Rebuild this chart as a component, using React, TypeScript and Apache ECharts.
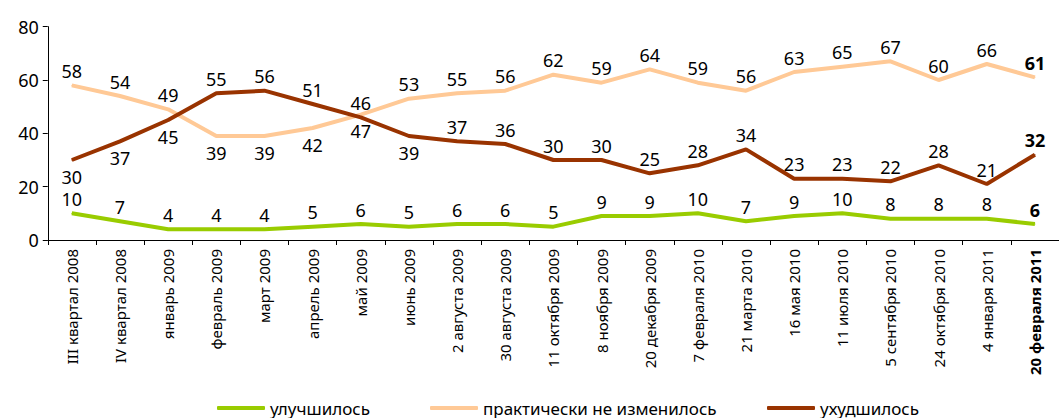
import React, { useEffect, useRef } from "react";
import * as echarts from "echarts";

const categories = [
  "III квартал 2008",
  "IV квартал 2008",
  "январь 2009",
  "февраль 2009",
  "март 2009",
  "апрель 2009",
  "май 2009",
  "июнь 2009",
  "2 августа 2009",
  "30 августа 2009",
  "11 октября 2009",
  "8 ноября 2009",
  "20 декабря 2009",
  "7 февраля 2010",
  "21 марта 2010",
  "16 мая 2010",
  "11 июля 2010",
  "5 сентября 2010",
  "24 октября 2010",
  "4 января 2011",
  "20 февраля 2011",
];

const improved = [10, 7, 4, 4, 4, 5, 6, 5, 6, 6, 5, 9, 9, 10, 7, 9, 10, 8, 8, 8, 6];
const unchanged = [58, 54, 49, 39, 39, 42, 47, 53, 55, 56, 62, 59, 64, 59, 56, 63, 65, 67, 60, 66, 61];
const worsened = [30, 37, 45, 55, 56, 51, 46, 39, 37, 36, 30, 30, 25, 28, 34, 23, 23, 22, 28, 21, 32];

const yTicks = { min: 0, max: 80, interval: 20 };

// indices whose data label sits below the line
const unchangedBelow = [3, 4, 5, 6];
const worsenedBelow = [0, 1, 2, 7];

const FONT = "Noto Sans";
const GREEN = "#99cc00";
const BEIGE = "#ffc996";
const BROWN = "#993300";

function buildData(values: number[], below: number[]) {
  const last = values.length - 1;
  return values.map((v, i) => ({
    value: v,
    label: {
      position: below.includes(i) ? "bottom" : "top",
      distance: below.includes(i) ? 7 : 5,
      fontWeight: i === last ? "bold" : "normal",
    },
  }));
}

export default function App() {
  const ref = useRef<HTMLDivElement>(null);

  useEffect(() => {
    if (!ref.current) return;
    const chart = echarts.init(ref.current, null, { renderer: "svg" });
    const labelStyle = {
      show: true,
      fontFamily: FONT,
      fontSize: 18,
      color: "#000",
    };
    const mkSeries = (name: string, values: number[], color: string, below: number[]) => ({
      name,
      type: "line",
      data: buildData(values, below),
      symbol: "circle",
      symbolSize: 1,
      showSymbol: true,
      itemStyle: { color },
      lineStyle: { color, width: 4 },
      label: labelStyle,
      emphasis: { disabled: true },
    });
    const legendCommon = {
      top: 394,
      itemWidth: 48,
      itemHeight: 4,
      icon: "roundRect",
      textStyle: { fontFamily: FONT, fontSize: 17, lineHeight: 18, color: "#000" },
      selectedMode: false,
    };
    chart.setOption({
      animation: false,
      grid: { left: 47.75, top: 26.67, width: 1018.5, height: 213.33, containLabel: false },
      legend: [
        { ...legendCommon, left: 212, data: ["улучшилось"] },
        { ...legendCommon, left: 425, data: ["практически не изменилось"] },
        { ...legendCommon, left: 762, data: ["ухудшилось"] },
      ],
      xAxis: {
        type: "category",
        data: categories,
        boundaryGap: true,
        axisLine: { show: true, lineStyle: { color: "#000", width: 1 } },
        axisTick: { show: true, interval: 0, length: 5, lineStyle: { color: "#000" } },
        axisLabel: {
          interval: 0,
          rotate: 90,
          margin: 9,
          fontFamily: FONT,
          fontSize: 15,
          color: "#000",
          formatter: (v: string, i: number) => (i === categories.length - 1 ? `{b|${v}}` : v),
          rich: { b: { fontWeight: "bold", fontFamily: FONT, fontSize: 15, color: "#000" } },
        },
        splitLine: { show: false },
      },
      yAxis: {
        type: "value",
        min: yTicks.min,
        max: yTicks.max,
        interval: yTicks.interval,
        axisLine: { show: true, lineStyle: { color: "#000", width: 1 } },
        axisTick: { show: true, length: 5, lineStyle: { color: "#000" } },
        axisLabel: { fontFamily: FONT, fontSize: 18, color: "#000", margin: 9 },
        splitLine: { show: false },
      },
      series: [
        mkSeries("улучшилось", improved, GREEN, []),
        mkSeries("практически не изменилось", unchanged, BEIGE, unchangedBelow),
        mkSeries("ухудшилось", worsened, BROWN, worsenedBelow),
      ],
    });
    return () => chart.dispose();
  }, []);

  return (
    <div
      ref={ref}
      style={{ position: "fixed", left: 0, top: 0, width: 1059, height: 418, background: "#fff" }}
    />
  );
}
